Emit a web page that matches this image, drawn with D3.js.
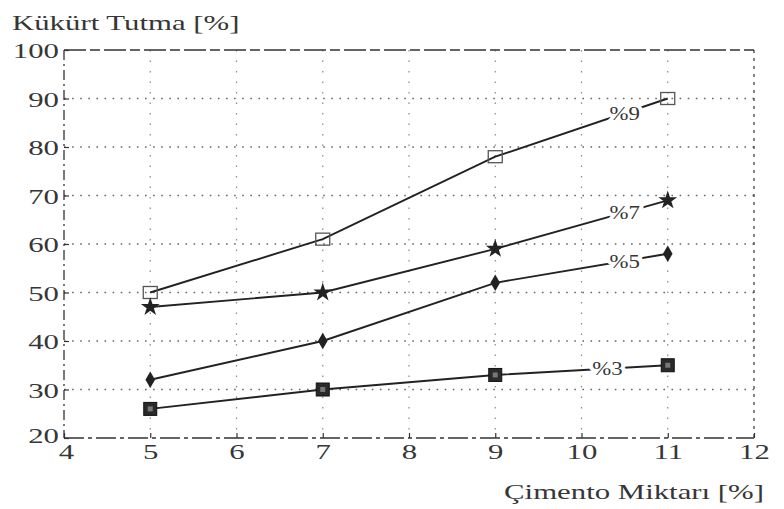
<!DOCTYPE html>
<html>
<head>
<meta charset="utf-8">
<script src="https://cdn.jsdelivr.net/npm/d3@7"></script>
<style>
  html, body { margin: 0; padding: 0; background: #fff; }
  svg { display: block; }
  text { font-family: "Liberation Serif", "Times New Roman", serif; fill: #363636; }
</style>
</head>
<body>
<svg id="chart" width="784" height="509"></svg>
<script>
// Cement amount on the x axis, sulphur retention per cement percentage
const cimento = [5, 7, 9, 11];
const seriesNames = ["%9", "%7", "%5", "%3"];
const tutma9 = [50, 61, 78, 90];
const tutma7 = [47, 50, 59, 69];
const tutma5 = [32, 40, 52, 58];
const tutma3 = [26, 30, 33, 35];
const xTicks = [4, 5, 6, 7, 8, 9, 10, 11, 12];
const yTicks = [20, 30, 40, 50, 60, 70, 80, 90, 100];
// where each series name sits along its line (x value)
const labelAt = [10.5, 10.5, 10.5, 10.3];

const series = [
  { name: seriesNames[0], values: tutma9, marker: "openSquare" },
  { name: seriesNames[1], values: tutma7, marker: "star" },
  { name: seriesNames[2], values: tutma5, marker: "diamond" },
  { name: seriesNames[3], values: tutma3, marker: "square" }
];

const svg = d3.select("#chart");
const pL = 64, pR = 754, pT = 50, pB = 438;
const x = d3.scaleLinear().domain([4, 12]).range([pL, pR]);
const y = d3.scaleLinear().domain([20, 100]).range([pB, pT]);
const SX = 1.4; // wide serif lettering

// dotted grid
const grid = svg.append("g");
grid.selectAll("line.h").data(yTicks.slice(1, -1)).join("line")
  .attr("x1", pL).attr("x2", pR)
  .attr("y1", d => y(d)).attr("y2", d => y(d))
  .attr("stroke", "#666").attr("stroke-width", 1.3)
  .attr("stroke-dasharray", "1.6,6.5");
grid.selectAll("line.v").data(xTicks.slice(1, -1)).join("line")
  .attr("y1", pT).attr("y2", pB)
  .attr("x1", d => x(d)).attr("x2", d => x(d))
  .attr("stroke", "#888").attr("stroke-width", 1.2)
  .attr("stroke-dasharray", "1.5,9");

// frame
const frame = svg.append("g").attr("stroke", "#333").attr("fill", "none");
frame.append("line").attr("x1", pL).attr("x2", pR).attr("y1", pT).attr("y2", pT)
  .attr("stroke-width", 1.4).attr("stroke-dasharray", "22,4,10,4");
frame.append("line").attr("x1", pR).attr("x2", pR).attr("y1", pT).attr("y2", pB)
  .attr("stroke-width", 1.2).attr("stroke-dasharray", "3,5");
frame.append("line").attr("x1", pL).attr("x2", pR).attr("y1", pB).attr("y2", pB)
  .attr("stroke-width", 1.5).attr("stroke-dasharray", "20,4,4,4");
frame.append("line").attr("x1", pL).attr("x2", pL).attr("y1", pT).attr("y2", pB)
  .attr("stroke-width", 1.3).attr("stroke-dasharray", "10,4,2,4");

// axes (ticks and labels)
const xAxis = svg.append("g").attr("transform", `translate(0,${pB})`)
  .call(d3.axisBottom(x).tickValues(xTicks).tickSize(-5).tickPadding(10).tickFormat(d3.format("d")));
const yAxis = svg.append("g").attr("transform", `translate(${pL},0)`)
  .call(d3.axisLeft(y).tickValues(yTicks).tickSize(-5).tickPadding(4).tickFormat(d3.format("d")));
[xAxis, yAxis].forEach(a => {
  a.select(".domain").remove();
  a.selectAll(".tick line").attr("stroke", "#333").attr("stroke-width", 1.2);
  a.selectAll(".tick text").attr("font-size", 22).attr("fill", "#363636")
    .attr("font-family", "Liberation Serif, serif");
});
xAxis.selectAll(".tick text")
  .attr("transform", `scale(${SX},1)`).attr("x", d => d === 4 ? 2 / SX : 0)
  .attr("y", 5).attr("dy", "0.71em");
yAxis.selectAll(".tick text")
  .attr("transform", `scale(${SX},1)`).attr("x", -5 / SX)
  .attr("y", d => d === 20 ? -3 : 0).attr("dy", "0.36em");

// lines
const line = d3.line().x(d => x(d[0])).y(d => y(d[1]));
series.forEach(s => {
  svg.append("path").datum(cimento.map((c, i) => [c, s.values[i]]))
    .attr("d", line).attr("fill", "none")
    .attr("stroke", "#222").attr("stroke-width", 1.9);
});

// markers
series.forEach(s => {
  const g = svg.append("g");
  cimento.forEach((c, i) => {
    const cx = x(c), cy = y(s.values[i]);
    if (s.marker === "openSquare") {
      g.append("rect").attr("x", cx - 7).attr("y", cy - 6).attr("width", 14).attr("height", 12)
        .attr("fill", "none").attr("stroke", "#555").attr("stroke-width", 1.3);
    } else if (s.marker === "square") {
      g.append("rect").attr("x", cx - 6.5).attr("y", cy - 6.5).attr("width", 13).attr("height", 13)
        .attr("fill", "#2a2a2a").attr("stroke", "#111").attr("stroke-width", 1);
      g.append("rect").attr("x", cx - 2.5).attr("y", cy - 2.5).attr("width", 5).attr("height", 5)
        .attr("fill", "#777");
    } else {
      const type = s.marker === "star" ? d3.symbolStar : d3.symbolDiamond;
      g.append("path").attr("d", d3.symbol().type(type).size(s.marker === "star" ? 110 : 80)())
        .attr("transform", `translate(${cx},${cy})`).attr("fill", "#222");
    }
  });
});

// series names placed on their lines
series.forEach((s, k) => {
  const xv = labelAt[k];
  const i = d3.bisectLeft(cimento, xv) - 1;
  const t = (xv - cimento[i]) / (cimento[i + 1] - cimento[i]);
  const v = s.values[i] + t * (s.values[i + 1] - s.values[i]);
  svg.append("text")
    .attr("transform", `translate(${x(xv)},${y(v)}) scale(1.2,1)`)
    .attr("text-anchor", "middle").attr("dy", "0.35em")
    .attr("font-size", 19).attr("fill", "#555")
    .attr("stroke", "#fff").attr("stroke-width", 7).attr("paint-order", "stroke")
    .text(s.name);
});

// axis titles
svg.append("text").attr("transform", `translate(12,30) scale(${SX},1)`)
  .attr("font-size", 22).text("Kükürt Tutma [%]");
svg.append("text").attr("transform", `translate(764,499) scale(${SX},1)`)
  .attr("text-anchor", "end").attr("font-size", 22).text("Çimento Miktarı [%]");
</script>
</body>
</html>
